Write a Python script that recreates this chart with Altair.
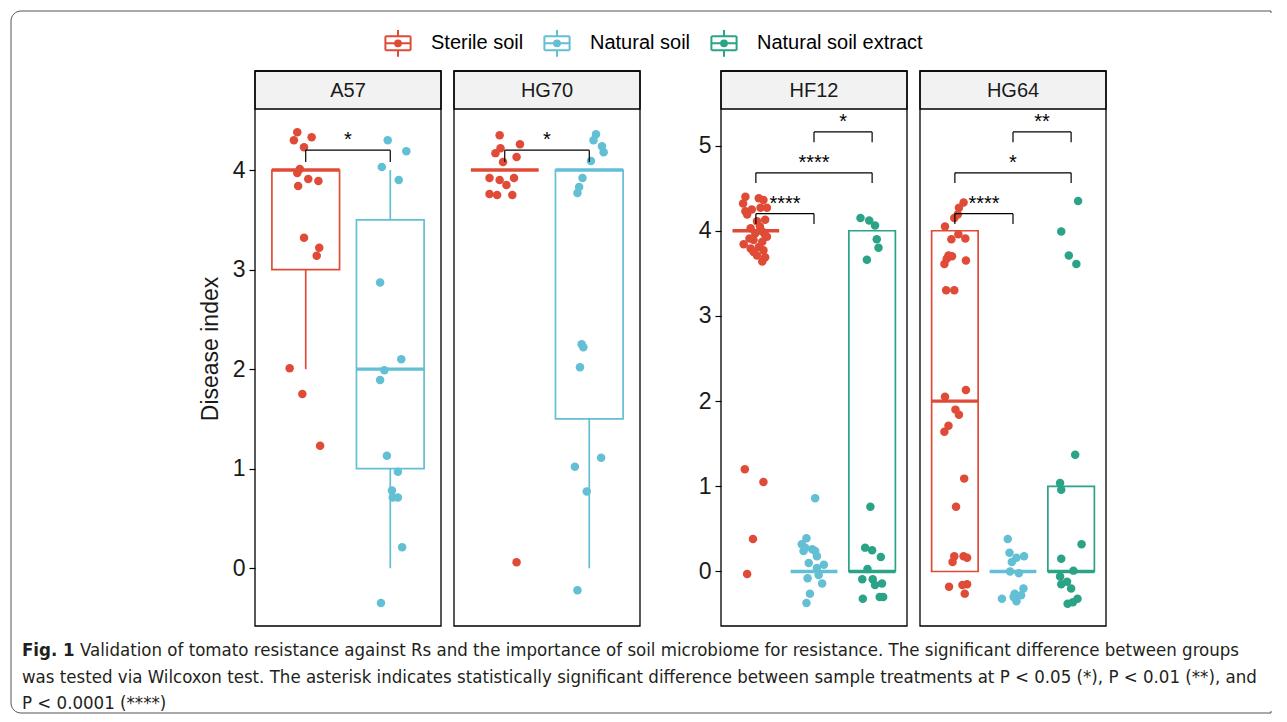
import altair as alt
import pandas as pd

# ---------------- data ----------------
GROUPS = ["Sterile soil", "Natural soil", "Natural soil extract"]
COLORS = ["#DF4B37", "#62BFD4", "#2AA386"]
PANELS = ["A57", "HG70", "HF12", "HG64"]
PANEL_NGROUPS = [2, 2, 3, 3]
Y_TICKS_LEFT = [0, 1, 2, 3, 4]
Y_TICKS_RIGHT = [0, 1, 2, 3, 4, 5]
Y_TITLE = "Disease index"

# jittered points: disease index (y) and horizontal jitter (category units)
A57_STERILE_Y = [4.38, 4.33, 4.30, 4.23, 4.01, 3.97, 3.91, 3.89, 3.84, 3.32, 3.22, 3.14, 2.01, 1.75, 1.23]
A57_STERILE_DX = [-0.10, 0.07, -0.14, -0.02, -0.07, -0.10, 0.03, 0.15, -0.09, -0.02, 0.16, 0.13, -0.19, -0.04, 0.17]
A57_NATURAL_Y = [4.30, 4.19, 4.03, 3.90, 2.87, 2.10, 1.99, 1.89, 1.13, 0.97, 0.78, 0.71, 0.71, 0.21, -0.35]
A57_NATURAL_DX = [-0.03, 0.19, -0.10, 0.10, -0.12, 0.13, -0.07, -0.12, -0.04, 0.09, 0.02, 0.03, 0.09, 0.14, -0.11]

HG70_STERILE_Y = [4.35, 4.26, 4.22, 4.17, 4.13, 4.08, 3.92, 3.90, 3.92, 3.85, 3.76, 3.75, 3.75, 0.06]
HG70_STERILE_DX = [-0.06, 0.18, -0.05, -0.11, 0.14, -0.02, -0.18, -0.06, 0.11, 0.02, -0.18, -0.09, 0.09, 0.14]
HG70_NATURAL_Y = [4.36, 4.30, 4.24, 4.18, 4.09, 3.92, 3.83, 3.77, 2.25, 2.22, 2.02, 1.11, 1.02, 0.77, -0.22]
HG70_NATURAL_DX = [0.08, 0.05, 0.15, 0.17, 0.02, -0.08, -0.12, -0.14, -0.09, -0.07, -0.11, 0.14, -0.17, -0.03, -0.14]

HF12_STERILE_Y = [4.40, 4.38, 4.36, 4.32, 4.27, 4.23, 4.25, 4.27, 4.19, 4.13, 4.11, 4.05, 4.03, 3.99, 3.97, 3.95,
                  3.84, 3.89, 3.87, 3.79, 3.81, 3.77, 3.75, 3.69, 3.64, 3.71, 3.91, 3.93, 1.20, 1.05, 0.38, -0.03]
HF12_STERILE_DX = [-0.18, 0.05, 0.13, -0.22, 0.19, -0.18, -0.07, 0.08, -0.15, 0.16, 0.02, 0.07, -0.09, 0.11, -0.01, 0.16,
                   -0.21, -0.04, 0.11, -0.09, 0.05, 0.13, -0.04, 0.16, 0.11, 0.02, -0.11, 0.19, -0.19, 0.13, -0.05, -0.15]
HF12_NATURAL_Y = [0.86, 0.39, 0.32, 0.26, 0.24, 0.18, 0.10, 0.08, 0.04, -0.08, -0.14, -0.26, -0.37, 0.24, -0.04, 0.28]
HF12_NATURAL_DX = [0.02, -0.13, -0.21, -0.03, -0.18, 0.05, -0.09, 0.17, 0.05, -0.11, 0.14, -0.07, -0.13, 0.02, 0.08, -0.15]
HF12_EXTRACT_Y = [4.15, 4.12, 4.06, 3.90, 3.80, 3.66, 0.76, 0.28, 0.25, 0.17, 0.03, -0.09, -0.09, -0.16, -0.14, -0.32, -0.30, -0.30]
HF12_EXTRACT_DX = [-0.20, -0.05, 0.05, 0.08, 0.11, -0.09, -0.03, -0.12, 0.00, 0.15, -0.08, -0.17, 0.01, 0.05, 0.17, -0.16, 0.13, 0.19]

HG64_STERILE_Y = [4.33, 4.27, 4.15, 4.19, 4.05, 3.96, 3.90, 3.91, 3.71, 3.67, 3.70, 3.61, 3.65, 3.30, 3.30, 2.05,
                  2.13, 1.90, 1.84, 1.71, 1.64, 1.09, 0.76, 0.18, 0.18, 0.16, 0.11, -0.18, -0.15, -0.26, -0.16]
HG64_STERILE_DX = [0.15, 0.07, -0.01, 0.05, -0.17, 0.06, -0.06, 0.18, -0.11, -0.14, -0.05, -0.18, 0.19, -0.15, -0.01, -0.17,
                   0.19, 0.01, 0.07, -0.11, -0.18, 0.16, 0.02, -0.01, 0.15, 0.21, -0.04, -0.10, 0.21, 0.17, 0.13]
HG64_NATURAL_Y = [0.38, 0.22, 0.16, 0.18, 0.11, -0.02, 0.00, -0.20, -0.26, -0.32, -0.35, -0.30, -0.28]
HG64_NATURAL_DX = [-0.09, -0.06, 0.06, 0.19, -0.02, 0.10, -0.05, 0.18, 0.03, -0.19, 0.06, 0.01, 0.14]
HG64_EXTRACT_Y = [4.35, 3.99, 3.71, 3.61, 1.37, 1.04, 0.96, 0.32, 0.15, 0.01, -0.06, -0.12, -0.15, -0.20, -0.32, -0.38, -0.36]
HG64_EXTRACT_DX = [0.12, -0.17, -0.04, 0.09, 0.07, -0.19, -0.17, 0.18, -0.17, 0.04, -0.19, -0.07, -0.17, 0.00, 0.11, -0.06, 0.03]

POINT_SETS = [
    ("A57", "Sterile soil", A57_STERILE_Y, A57_STERILE_DX),
    ("A57", "Natural soil", A57_NATURAL_Y, A57_NATURAL_DX),
    ("HG70", "Sterile soil", HG70_STERILE_Y, HG70_STERILE_DX),
    ("HG70", "Natural soil", HG70_NATURAL_Y, HG70_NATURAL_DX),
    ("HF12", "Sterile soil", HF12_STERILE_Y, HF12_STERILE_DX),
    ("HF12", "Natural soil", HF12_NATURAL_Y, HF12_NATURAL_DX),
    ("HF12", "Natural soil extract", HF12_EXTRACT_Y, HF12_EXTRACT_DX),
    ("HG64", "Sterile soil", HG64_STERILE_Y, HG64_STERILE_DX),
    ("HG64", "Natural soil", HG64_NATURAL_Y, HG64_NATURAL_DX),
    ("HG64", "Natural soil extract", HG64_EXTRACT_Y, HG64_EXTRACT_DX),
]

# box statistics (q1, median, q3, lower whisker, upper whisker)
BOX_PANEL = ["A57", "A57", "HG70", "HG70", "HF12", "HF12", "HF12", "HG64", "HG64", "HG64"]
BOX_GROUP = ["Sterile soil", "Natural soil", "Sterile soil", "Natural soil",
             "Sterile soil", "Natural soil", "Natural soil extract",
             "Sterile soil", "Natural soil", "Natural soil extract"]
BOX_Q1 = [3, 1, 4, 1.5, 4, 0, 0, 0, 0, 0]
BOX_MED = [4, 2, 4, 4, 4, 0, 0, 2, 0, 0]
BOX_Q3 = [4, 3.5, 4, 4, 4, 0, 4, 4, 0, 1]
BOX_LO = [2, 0, 4, 0, 4, 0, 0, 0, 0, 0]
BOX_HI = [4, 4, 4, 4, 4, 0, 4, 4, 0, 1]

# significance brackets
BR_PANEL = ["A57", "HG70", "HF12", "HF12", "HF12", "HG64", "HG64", "HG64"]
BR_FROM = [1, 1, 1, 1, 2, 1, 1, 2]
BR_TO = [2, 2, 2, 3, 3, 2, 3, 3]
BR_Y = [4.20, 4.20, 4.20, 4.68, 5.16, 4.20, 4.68, 5.16]
BR_LABEL = ["*", "*", "****", "****", "*", "****", "*", "**"]

CAPTION_BOLD = "Fig. 1"
CAPTION_LINES = [
    "Validation of tomato resistance against Rs and the importance of soil microbiome for resistance. The significant difference between groups",
    "was tested via Wilcoxon test. The asterisk indicates statistically significant difference between sample treatments at P < 0.05 (*), P < 0.01 (**), and",
    "P < 0.0001 (****)",
]

# ---------------- tables ----------------
rows = []
for panel, group, ys, dxs in POINT_SETS:
    gx = GROUPS.index(group) + 1
    for yv, dx in zip(ys, dxs):
        rows.append({"panel": panel, "group": group, "x": gx + dx, "y": yv})
points = pd.DataFrame(rows)

HALF_BOX = 0.4
boxes = pd.DataFrame({"panel": BOX_PANEL, "group": BOX_GROUP, "q1": BOX_Q1, "med": BOX_MED,
                      "q3": BOX_Q3, "lo": BOX_LO, "hi": BOX_HI})
boxes["gx"] = [GROUPS.index(g) + 1 for g in boxes["group"]]
boxes["xl"] = boxes["gx"] - HALF_BOX
boxes["xr"] = boxes["gx"] + HALF_BOX

TIP = 0.12
brackets = pd.DataFrame({"panel": BR_PANEL, "x1": BR_FROM, "x2": BR_TO, "y": BR_Y, "label": BR_LABEL})
brackets["ytip"] = brackets["y"] - TIP
brackets["xm"] = (brackets["x1"] + brackets["x2"]) / 2

# ---------------- styling ----------------
FONT = "Liberation Sans, Arial, Helvetica, sans-serif"
CAP_FONT = "DejaVu Sans Condensed, Liberation Sans Narrow, sans-serif"
CAP_SIZE = 18.5
W, H, HH = 186, 555, 38
LEFT_DOMAIN = [-0.58, 4.995]
RIGHT_DOMAIN = [-0.64, 5.875]

# legend glyph: box outline drawn as separate segments (zero fill area), whiskers, median and a dot
r_list = [0.07, 0.14, 0.21]
dot = "".join(f"M{r},0A{r},{r} 0 1 1 {-r},0A{r},{r} 0 1 1 {r},0Z" for r in r_list)
GLYPH = ("M-0.9,-0.5L0.9,-0.5 M0.9,-0.5L0.9,0.5 M0.9,0.5L-0.9,0.5 M-0.9,0.5L-0.9,-0.5 "
         "M0,-0.5L0,-0.95 M0,0.5L0,0.95 M-0.9,0L0.9,0 " + dot)

LEGEND = alt.Legend(
    title=None, orient="none", legendX=128, legendY=-43, direction="horizontal",
    symbolType=GLYPH, symbolSize=784, symbolStrokeWidth=2, symbolFillColor="transparent",
    symbolOpacity=1, labelFontSize=20, labelFont=FONT, labelColor="black", labelOffset=18,
    labelLimit=400, columnPadding=16, padding=0,
)
CSCALE = alt.Scale(domain=GROUPS, range=COLORS)
STROKE = alt.Stroke("group:N", scale=CSCALE, legend=LEGEND)
FILL = alt.Fill("group:N", scale=CSCALE, legend=None)


def make_panel(idx):
    name = PANELS[idx]
    ng = PANEL_NGROUPS[idx]
    right = ng == 3
    ydom = RIGHT_DOMAIN if right else LEFT_DOMAIN
    ticks = Y_TICKS_RIGHT if right else Y_TICKS_LEFT
    xs = alt.Scale(domain=[1 - 0.6, ng + 0.6], nice=False, zero=False)
    ys = alt.Scale(domain=ydom, nice=False, zero=False)
    show_axis = idx in (0, 2)
    if show_axis:
        yaxis = alt.Axis(values=ticks, format="d", domain=False, grid=False, tickSize=6, tickWidth=1.2,
                         tickColor="black", labelFontSize=23, labelFont=FONT, labelColor="#1a1a1a",
                         labelPadding=4, titleFontSize=23, titleFont=FONT, titleFontWeight="normal",
                         titleColor="#1a1a1a", titlePadding=10)
    else:
        yaxis = None
    ytitle = Y_TITLE if idx == 0 else ""

    def X(f):
        return alt.X(f, type="quantitative", scale=xs, axis=None)

    def Y(f):
        return alt.Y(f, type="quantitative", scale=ys, axis=yaxis, title=ytitle)

    pts = points[points.panel == name]
    bx = boxes[boxes.panel == name]
    br = brackets[brackets.panel == name]

    box = alt.Chart(bx).mark_rect(fillOpacity=0, strokeWidth=1.7).encode(
        x=X("xl"), x2="xr", y=Y("q1"), y2="q3", stroke=STROKE)
    wlo = alt.Chart(bx).mark_rule(strokeWidth=1.7).encode(x=X("gx"), y=Y("lo"), y2="q1", stroke=STROKE)
    whi = alt.Chart(bx).mark_rule(strokeWidth=1.7).encode(x=X("gx"), y=Y("q3"), y2="hi", stroke=STROKE)
    med = alt.Chart(bx).mark_rule(strokeWidth=3.4).encode(x=X("xl"), x2="xr", y=Y("med"), stroke=STROKE)
    dots = alt.Chart(pts).mark_circle(size=72, opacity=1).encode(x=X("x"), y=Y("y"), fill=FILL)
    bh = alt.Chart(br).mark_rule(color="black", strokeWidth=1.2).encode(x=X("x1"), x2="x2", y=Y("y"))
    bl = alt.Chart(br).mark_rule(color="black", strokeWidth=1.2).encode(x=X("x1"), y=Y("y"), y2="ytip")
    brr = alt.Chart(br).mark_rule(color="black", strokeWidth=1.2).encode(x=X("x2"), y=Y("y"), y2="ytip")
    blab = alt.Chart(br).mark_text(fontSize=20, font=FONT, color="black", baseline="alphabetic", dy=-4).encode(
        x=X("xm"), y=Y("y"), text="label:N")

    hdr_df = pd.DataFrame({"panel": [name]})
    hdr = alt.Chart(hdr_df).mark_rect(fill="#F2F2F2", stroke="black", strokeWidth=1.3).encode(
        x=alt.value(0), x2=alt.value(W), y=alt.value(0), y2=alt.value(HH))
    htxt = alt.Chart(hdr_df).mark_text(fontSize=20, font=FONT, color="#1a1a1a", baseline="middle").encode(
        x=alt.value(W / 2), y=alt.value(HH / 2 + 1), text="panel:N")
    frame = alt.Chart(hdr_df).mark_rect(fillOpacity=0, stroke="black", strokeWidth=1.3).encode(
        x=alt.value(0), x2=alt.value(W), y=alt.value(0), y2=alt.value(H))

    layers = [box, wlo, whi, med, dots, bh, bl, brr, blab, hdr, htxt, frame]

    if idx == 0:
        # figure border and caption (pixel offsets relative to this panel)
        bdf = pd.DataFrame({"k": [0]})
        border = alt.Chart(bdf).mark_rect(fillOpacity=0, stroke="#555555", strokeWidth=1,
                                          cornerRadiusTopLeft=10, cornerRadiusBottomLeft=10).encode(
            x=alt.value(-244), x2=alt.value(1016), y=alt.value(-60), y2=alt.value(642))
        hide = alt.Chart(bdf).mark_rule(color="white", strokeWidth=3).encode(
            x=alt.value(1016), y=alt.value(-58), y2=alt.value(640))
        cb = alt.Chart(pd.DataFrame({"t": [CAPTION_BOLD]})).mark_text(
            font=CAP_FONT, fontSize=CAP_SIZE, fontWeight="bold", color="#231F20", align="left",
            baseline="middle").encode(x=alt.value(-233), y=alt.value(579), text="t:N")
        cap = []
        starts = [(-175, 579), (-233, 606), (-233, 632)]
        for line, (cx, cy) in zip(CAPTION_LINES, starts):
            cap.append(alt.Chart(pd.DataFrame({"t": [line]})).mark_text(
                font=CAP_FONT, fontSize=CAP_SIZE, color="#231F20", align="left", baseline="middle").encode(
                x=alt.value(cx), y=alt.value(cy), text="t:N"))
        layers = layers + [border, hide, cb] + cap

    return alt.layer(*layers).properties(width=W, height=H)


spacer = alt.Chart(pd.DataFrame({"k": [0]})).mark_point(opacity=0).encode(
    x=alt.value(0), y=alt.value(0)).properties(width=55, height=H)

chart = alt.hconcat(
    make_panel(0), make_panel(1), spacer, make_panel(2), make_panel(3),
    spacing=13, bounds="flush",
).resolve_scale(
    x="independent", y="independent", stroke="shared", fill="shared"
).properties(
    padding={"left": 2, "top": 2, "right": 2, "bottom": 0}
).configure_view(stroke="transparent")

chart.save("out.html", embed_options={"renderer": "svg", "actions": False})
